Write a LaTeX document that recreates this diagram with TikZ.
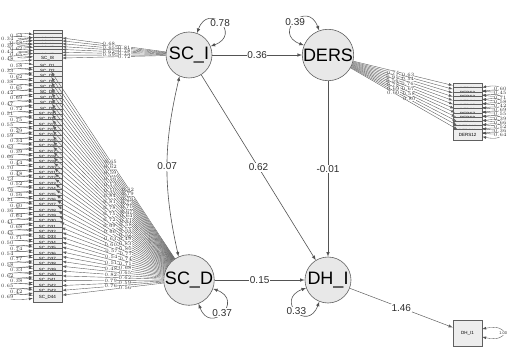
\documentclass[tikz,border=0pt]{standalone}
\usepackage{fontspec}
\setmainfont{Liberation Sans}
\begin{document}
\begin{tikzpicture}[x=1pt, y=1pt, >=latex]
    % Stili
    \tikzstyle{latent}=[circle, draw=gray!75!black, fill=gray!18, minimum size=46pt, inner sep=0pt, line width=0.6pt, font=\fontsize{18}{18}\selectfont]
    \tikzstyle{item}=[rectangle, draw=gray!75!black, fill=gray!14, minimum width=29pt, minimum height=11pt, inner sep=0pt, line width=0.4pt, font=\fontsize{4.5}{4.5}\selectfont]
    \tikzstyle{regr}=[->, gray!65!black, line width=0.6pt]
    \tikzstyle{load}=[->, gray!75!black, line width=0.4pt]
    \tikzstyle{varloop}=[<->, gray!65!black, line width=0.6pt]
    \tikzstyle{resloop}=[<->, gray!65!black, line width=0.35pt]
    \tikzstyle{est}=[fill=white, inner sep=0.6pt, text=gray!35!black, font=\fontsize{10}{10}\selectfont]
    \tikzstyle{estsm}=[fill=white, inner sep=0.1pt, text=black!80, font=\fontsize{4}{4}\selectfont]

    \useasboundingbox (0,0) rectangle (508,351);

    % Variabili latenti
    \node[latent] (SCI) at (189,296) {SC\_I};
    \node[latent] (DERS) at (328,296) {DERS};
    \node[latent] (SCD) at (189,71) {SC\_D};
    \node[latent] (DHI) at (328,71) {DH\_I};

    % Indicatori
    \foreach \i in {1,...,8} {
        \pgfmathsetmacro{\yy}{315-(\i-1)*3.2}
        \node[item] (sci\i) at (47.5,\yy) {SC\_I\i};
    }
    \foreach \i in {1,...,44} {
        \pgfmathsetmacro{\yy}{285-(\i-1)*5.37}
        \node[item] (scd\i) at (47.5,\yy) {SC\_D\i};
    }
    \foreach \i in {1,...,12} {
        \pgfmathsetmacro{\yy}{262-(\i-1)*4.2}
        \node[item] (ders\i) at (467.5,\yy) {DERS\i};
    }
    \node[item, minimum height=26pt] (dhi1) at (467.5,18) {DH\_I1};

    % Saturazioni e residui
    \foreach \i in {1,...,8} {
        \pgfmathsetmacro{\lam}{0.55+mod(\i*13,29)/100}
        \pgfmathsetmacro{\res}{1-\lam*\lam}
        \pgfmathsetmacro{\ext}{ifthenelse(mod(\i,2)==0,-34,-22)}
        \pgfmathsetmacro{\lp}{ifthenelse(mod(\i,2)==0,0.40,0.55)}
        \draw[load] (SCI) -- (sci\i) node[pos=\lp, estsm] {\pgfmathprintnumber[fixed,fixed zerofill,precision=2]{\lam}};
        \draw[resloop] ([yshift=1.5pt]sci\i.west) .. controls +(\ext,4) and +(\ext,-4) .. ([yshift=-1.5pt]sci\i.west) node[pos=0.5, estsm] {\pgfmathprintnumber[fixed,fixed zerofill,precision=2]{\res}};
    }
    \foreach \i in {1,...,44} {
        \pgfmathsetmacro{\lam}{0.48+mod(\i*17,37)/100}
        \pgfmathsetmacro{\res}{1-\lam*\lam}
        \pgfmathsetmacro{\ext}{ifthenelse(mod(\i,2)==0,-34,-22)}
        \pgfmathsetmacro{\lp}{ifthenelse(mod(\i,2)==0,0.38,0.52)}
        \draw[load] (SCD) -- (scd\i) node[pos=\lp, estsm] {\pgfmathprintnumber[fixed,fixed zerofill,precision=2]{\lam}};
        \draw[resloop] ([yshift=1.5pt]scd\i.west) .. controls +(\ext,4) and +(\ext,-4) .. ([yshift=-1.5pt]scd\i.west) node[pos=0.5, estsm] {\pgfmathprintnumber[fixed,fixed zerofill,precision=2]{\res}};
    }
    \foreach \i in {1,...,12} {
        \pgfmathsetmacro{\lam}{0.52+mod(\i*11,31)/100}
        \pgfmathsetmacro{\res}{1-\lam*\lam}
        \pgfmathsetmacro{\lp}{ifthenelse(mod(\i,2)==0,0.40,0.55)}
        \draw[load] (DERS) -- (ders\i) node[pos=\lp, estsm] {\pgfmathprintnumber[fixed,fixed zerofill,precision=2]{\lam}};
        \draw[resloop] ([yshift=1.5pt]ders\i.east) .. controls +(24,5) and +(24,-5) .. ([yshift=-1.5pt]ders\i.east) node[pos=0.5, estsm] {\pgfmathprintnumber[fixed,fixed zerofill,precision=2]{\res}};
    }
    \draw[load, line width=0.5pt] (DHI) -- node[est] {1.46} (dhi1);
    \draw[resloop] ([yshift=4pt]dhi1.east) .. controls +(28,6) and +(28,-6) .. ([yshift=-4pt]dhi1.east) node[pos=0.5, estsm] {1.00};

    % Regressioni e covarianza
    \draw[regr] (SCI) -- node[est] {0.36} (DERS);
    \draw[regr] (SCI) -- node[est] {0.62} (DHI);
    \draw[regr] (DERS) -- node[est] {-0.01} (DHI);
    \draw[regr] (SCD) -- node[est] {0.15} (DHI);
    \draw[varloop] (SCI.246) to[bend right=13] node[est] {0.07} (SCD.114);

    % Varianze residue
    \draw[varloop] (SCI.70) .. controls +(70:34) and +(20:34) .. (SCI.22) node[pos=0.5, est] {0.78};
    \draw[varloop] (DERS.110) .. controls +(110:34) and +(160:34) .. (DERS.158) node[pos=0.5, est] {0.39};
    \draw[varloop] (SCD.-20) .. controls +(-20:34) and +(-70:34) .. (SCD.-68) node[pos=0.5, est] {0.37};
    \draw[varloop] (DHI.200) .. controls +(200:34) and +(250:34) .. (DHI.248) node[pos=0.5, est] {0.33};
\end{tikzpicture}
\end{document}
